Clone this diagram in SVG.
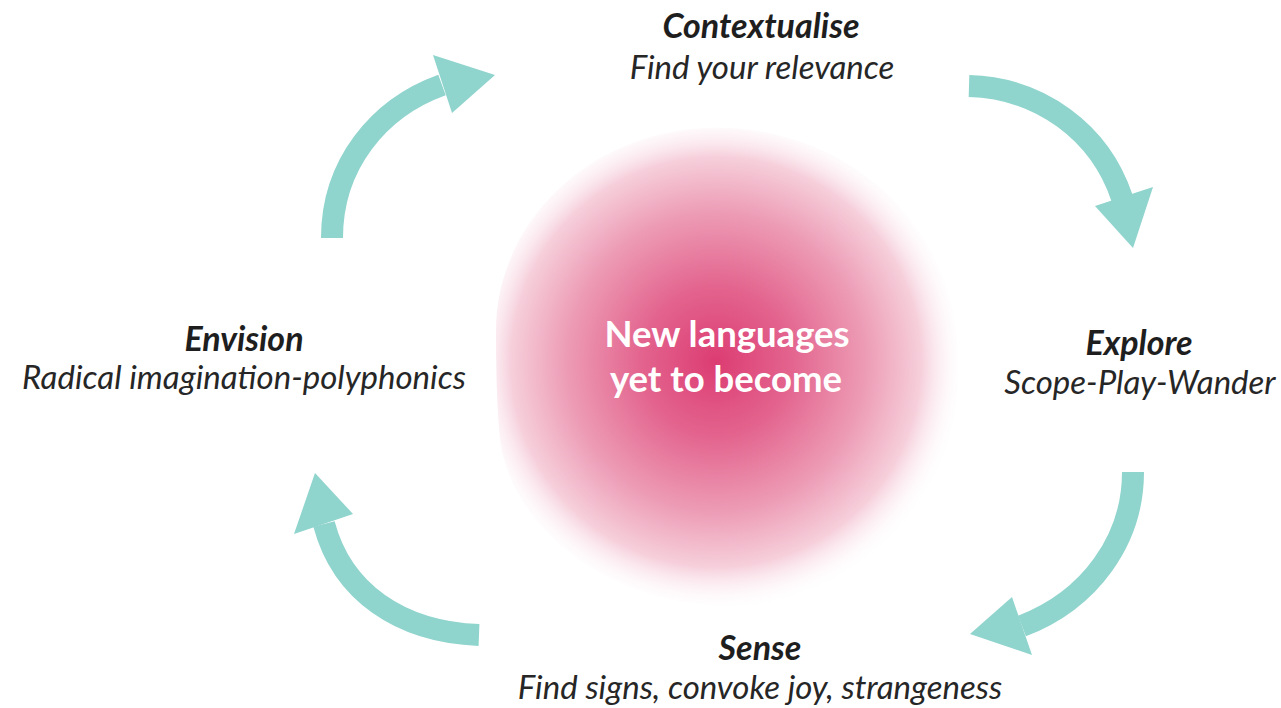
<svg xmlns="http://www.w3.org/2000/svg" width="1281" height="708" viewBox="0 0 1281 708">
<style>
.title{font-family:Lato,"Noto Sans",sans-serif;font-weight:700;font-style:italic;font-size:34px;fill:#1e1e1e;text-anchor:middle}
.sub{font-family:Lato,"Noto Sans",sans-serif;font-weight:400;font-style:italic;font-size:33px;fill:#262626;text-anchor:middle}
.center{font-family:Lato,"Noto Sans",sans-serif;font-weight:700;font-size:36.5px;fill:#fff;text-anchor:middle}
.shaft{fill:none;stroke:#8fd4cd;stroke-width:22}
.head{fill:#8fd4cd}
</style>
<defs>
<radialGradient id="blob" gradientUnits="userSpaceOnUse" cx="716" cy="362" r="250">
<stop offset="0" stop-color="#dc3c72"/>
<stop offset="0.3" stop-color="#e3648e"/>
<stop offset="0.6" stop-color="#ed9cb6"/>
<stop offset="0.82" stop-color="#f6cfdb"/>
<stop offset="1" stop-color="#ffffff" stop-opacity="0"/>
</radialGradient>
</defs>
<rect width="1281" height="708" fill="#fff"/>
<g id="core">
<path d="M496,330 C496,230 580,135 705,128 C835,122 955,215 958,355 C960,445 935,495 895,537 C845,590 785,610 720,606 C600,600 512,525 500,440 C497,410 496,370 496,330 Z" fill="url(#blob)"/>
<text class="center" x="727" y="347">New languages</text>
<text class="center" x="726" y="392">yet to become</text>
</g>
<g id="contextualise">
<text class="title" x="761" y="38">Contextualise</text>
<text class="sub" x="762" y="79">Find your relevance</text>
</g>
<g id="explore">
<text class="title" x="1139" y="355">Explore</text>
<text class="sub" x="1140" y="394">Scope-Play-Wander</text>
</g>
<g id="sense">
<text class="title" x="760" y="660">Sense</text>
<text class="sub" x="760" y="699">Find signs, convoke joy, strangeness</text>
</g>
<g id="envision">
<text class="title" x="244" y="351">Envision</text>
<text class="sub" x="244" y="389">Radical imagination-polyphonics</text>
</g>
<g id="connectors">
<path class="shaft" d="M332,238 C332,165 378,108 442,85"/>
<polygon class="head" points="433,55 495,75 452,113"/>
<path class="shaft" d="M969,86 C1040,88 1100,132 1122,198"/>
<polygon class="head" points="1095,206 1133,248 1153,187"/>
<path class="shaft" d="M1133,472 C1133,540 1090,600 1022,626"/>
<polygon class="head" points="1012,597 970,634 1032,655"/>
<path class="shaft" d="M479,635 C400,632 342,592 324,524"/>
<polygon class="head" points="294,534 315,473 353,514"/>
</g>
</svg>
